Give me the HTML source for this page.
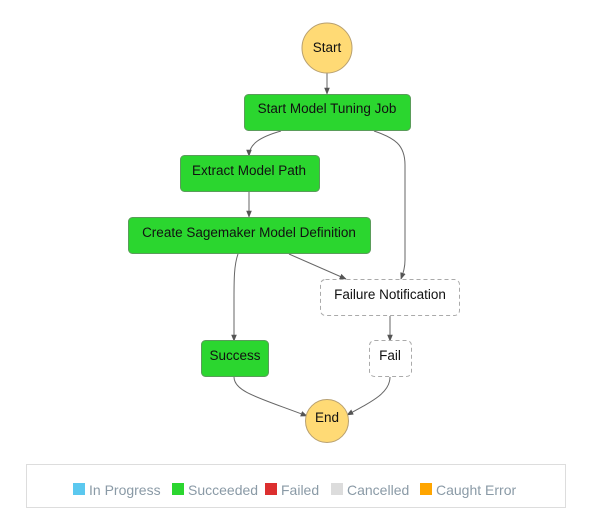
<!DOCTYPE html>
<html><head><meta charset="utf-8"><style>
body{margin:0;background:#fff;width:589px;height:517px;overflow:hidden}
svg{display:block}
text{font-family:"Liberation Sans",sans-serif;font-size:13.5px;fill:#111}
.lg{font-size:14px;fill:#8a9aa6}
</style></head><body>
<svg width="589" height="517" viewBox="0 0 589 517">
<defs><marker id="a" viewBox="0 0 10 10" refX="9" refY="5" markerWidth="7" markerHeight="7" orient="auto"><path d="M0,1 L10,5 L0,9 z" fill="#555"/></marker></defs>
<g fill="none" stroke="#666" stroke-width="1" marker-end="url(#a)">
<path d="M327,73 L327,94"/>
<path d="M281,131 C260,137 249,144 249,156"/>
<path d="M374,131 C395,138 405,145 405,165 L405,260 C405,268 403,273 401,279"/>
<path d="M249,192 L249,217"/>
<path d="M238,254 C234,265 234,280 234,300 L234,341"/>
<path d="M289,254 L346,279"/>
<path d="M390,316 L390,341"/>
<path d="M234,377 C234,392 260,398 307,416"/>
<path d="M390,377 C390,392 375,400 347,415"/>
</g>
<circle cx="327" cy="48" r="25" fill="#ffda75" stroke="#b8a070"/>
<text x="327" y="52" text-anchor="middle">Start</text>
<g fill="#2bd62f" stroke="#5a9c5a">
<rect x="244.5" y="94.5" width="166" height="36" rx="4"/>
<rect x="180.5" y="155.5" width="139" height="36" rx="4"/>
<rect x="128.5" y="217.5" width="242" height="36" rx="4"/>
<rect x="201.5" y="340.5" width="67" height="36" rx="4"/>
</g>
<g fill="#fff" stroke="#aaa" stroke-dasharray="4,3">
<rect x="320.5" y="279.5" width="139" height="36" rx="5"/>
<rect x="369.5" y="340.5" width="42" height="36" rx="5"/>
</g>
<text x="327" y="113" text-anchor="middle">Start Model Tuning Job</text>
<text x="249" y="175" text-anchor="middle">Extract Model Path</text>
<text x="249" y="237" text-anchor="middle">Create Sagemaker Model Definition</text>
<text x="390" y="299" text-anchor="middle">Failure Notification</text>
<text x="235" y="360" text-anchor="middle">Success</text>
<text x="390" y="360" text-anchor="middle">Fail</text>
<circle cx="327" cy="421" r="21.5" fill="#ffda75" stroke="#b8a070"/>
<text x="327" y="422" text-anchor="middle">End</text>
<rect x="26.5" y="464.5" width="539" height="43" fill="#fff" stroke="#ddd"/>
<rect x="73" y="483" width="12" height="12" fill="#5bc8ef"/>
<text class="lg" x="89" y="495">In Progress</text>
<rect x="172" y="483" width="12" height="12" fill="#2bd62f"/>
<text class="lg" x="188" y="495">Succeeded</text>
<rect x="265" y="483" width="12" height="12" fill="#dc2f2f"/>
<text class="lg" x="281" y="495">Failed</text>
<rect x="331" y="483" width="12" height="12" fill="#dcdcdc"/>
<text class="lg" x="347" y="495">Cancelled</text>
<rect x="420" y="483" width="12" height="12" fill="#ffa500"/>
<text class="lg" x="436" y="495">Caught Error</text>
</svg>
</body></html>
